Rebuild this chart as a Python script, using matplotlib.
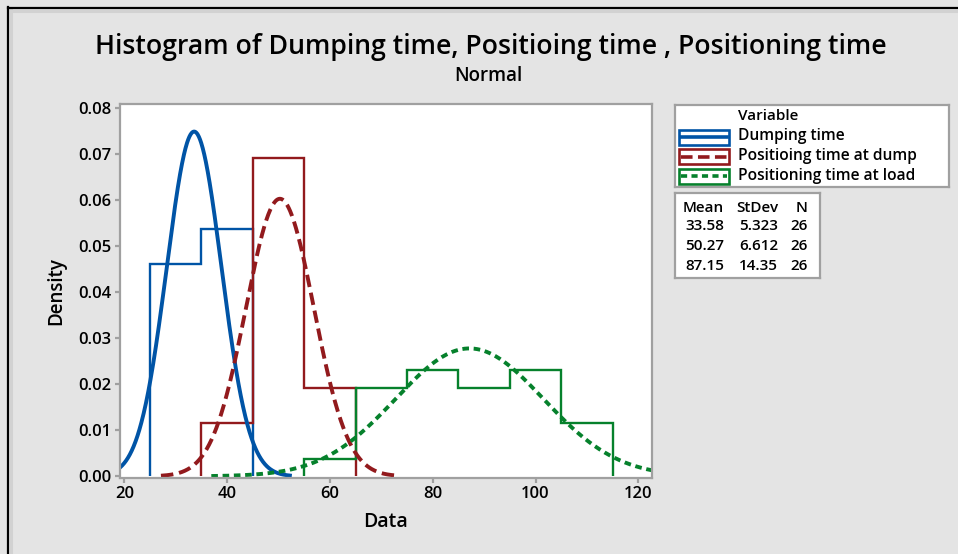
import numpy as np
import matplotlib
matplotlib.use('Agg')
import matplotlib.pyplot as plt
from matplotlib.lines import Line2D
from matplotlib.patches import Rectangle

plt.rcParams['font.family'] = ['Open Sans', 'DejaVu Sans']

# histogram data (counts per 10-unit bin), N = 26 each
dump_edges = [25, 35, 45]
dump_counts = [12, 14]
pos_dump_edges = [35, 45, 55, 65]
pos_dump_counts = [3, 18, 5]
pos_load_edges = [55, 65, 75, 85, 95, 105, 115]
pos_load_counts = [1, 5, 6, 5, 6, 3]

variables = ['Dumping time', 'Positioing time at dump', 'Positioning time at load']
means = [33.58, 50.27, 87.15]
stdevs = [5.323, 6.612, 14.35]
ns = [26, 26, 26]

colors = ['#0054a6', '#921a1d', '#06812c']
curve_dashes = [None, (3.2, 1.5), (1.7, 1.2)]

W, H = 958, 554
fig = plt.figure(figsize=(W / 100, H / 100), dpi=100)
fig.patch.set_facecolor('#e4e4e4')

# frame lines around the figure (top and left only)
fig.add_artist(Line2D([11 / W, 11 / W], [0, 1 - 10 / H], transform=fig.transFigure, color='#d2d2d2', lw=2.2))
fig.add_artist(Line2D([11 / W, 1], [1 - 10.5 / H, 1 - 10.5 / H], transform=fig.transFigure, color='#d2d2d2', lw=2.2))
fig.add_artist(Line2D([8 / W, 8 / W], [0, 1 - 7 / H], transform=fig.transFigure, color='black', lw=1.6))
fig.add_artist(Line2D([8 / W, 1], [1 - 8 / H, 1 - 8 / H], transform=fig.transFigure, color='black', lw=1.6))

ax = fig.add_axes([120 / W, 1 - 477.5 / H, 531.7 / W, 373.5 / H])
ax.set_facecolor('white')

hists = [(dump_edges, dump_counts), (pos_dump_edges, pos_dump_counts), (pos_load_edges, pos_load_counts)]
for (edges, counts), n, c in zip(hists, ns, colors):
    width = edges[1] - edges[0]
    dens = np.array(counts) / (n * width)
    ax.stairs(dens, edges, color=c, lw=1.7, baseline=0)

for m, s, c, d in zip(means, stdevs, colors, curve_dashes):
    x = np.linspace(m - 3.5 * s, m + 3.5 * s, 500)
    y = np.exp(-0.5 * ((x - m) / s) ** 2) / (s * np.sqrt(2 * np.pi))
    line, = ax.plot(x, y, color=c, lw=2.8)
    if d is not None:
        line.set_dashes(d)

ax.set_xlim(19.16, 122.6)
ax.set_ylim(-0.00026, 0.08094)
ax.set_xticks([20, 40, 60, 80, 100, 120])
ax.set_yticks(np.arange(0, 0.081, 0.01))
ax.set_yticklabels([f'{v:.2f}' for v in np.arange(0, 0.081, 0.01)])
for sp in ax.spines.values():
    sp.set_color('#a0a0a0')
    sp.set_linewidth(1.6)
ax.tick_params(direction='out', length=3.6, width=1.6, color='#a0a0a0', labelsize=12, pad=2.5)
for lab in ax.get_xticklabels() + ax.get_yticklabels():
    lab.set_fontweight('semibold')
ax.set_xlabel('Data', fontsize=14, fontweight='semibold', labelpad=7)
ax.set_ylabel('Density', fontsize=13.5, fontweight='semibold', labelpad=9)

fig.text(490.6 / W, 1 - 54.3 / H, 'Histogram of Dumping time, Positioing time , Positioning time',
         ha='center', va='baseline', fontsize=19.2, fontweight='semibold')
fig.text(488 / W, 1 - 81 / H, 'Normal', ha='center', va='baseline', fontsize=13.5, fontweight='semibold')

# legend box
lax = fig.add_axes([675 / W, 1 - 187 / H, 274 / W, 82 / H])
lax.set_xlim(0, 274)
lax.set_ylim(82, 0)
lax.set_xticks([])
lax.set_yticks([])
for sp in lax.spines.values():
    sp.set_color('#a0a0a0')
    sp.set_linewidth(1.6)
lax.text(63, 11.5, 'Variable', va='center', fontsize=11, fontweight='semibold')
for i, (name, c, d) in enumerate(zip(variables, colors, curve_dashes)):
    y0 = 24.5 + i * 19.5
    lax.add_patch(Rectangle((4, y0), 50, 15, fill=False, edgecolor=c, lw=1.9))
    ln, = lax.plot([6, 52], [y0 + 7.5, y0 + 7.5], color=c, lw=2.6)
    if d is not None:
        ln.set_dashes(d)
    lax.text(63, y0 + 7, name, va='center', fontsize=11.2, fontweight='semibold')

# stats box
sax = fig.add_axes([675 / W, 1 - 278 / H, 145 / W, 85 / H])
sax.set_xlim(0, 145)
sax.set_ylim(85, 0)
sax.set_xticks([])
sax.set_yticks([])
for sp in sax.spines.values():
    sp.set_color('#a0a0a0')
    sp.set_linewidth(1.6)
col_x = [49, 103, 133]
for txt, xx in zip(['Mean', 'StDev', 'N'], col_x):
    sax.text(xx, 15, txt, ha='right', va='center', fontsize=11, fontweight='semibold')
for i, (m, s, n) in enumerate(zip(means, stdevs, ns)):
    yy = 33 + i * 20
    for txt, xx in zip([f'{m:.2f}', f'{s:.4g}', str(n)], col_x):
        sax.text(xx, yy, txt, ha='right', va='center', fontsize=11, fontweight='semibold')

fig.savefig('out.png', dpi=100, facecolor=fig.get_facecolor())
